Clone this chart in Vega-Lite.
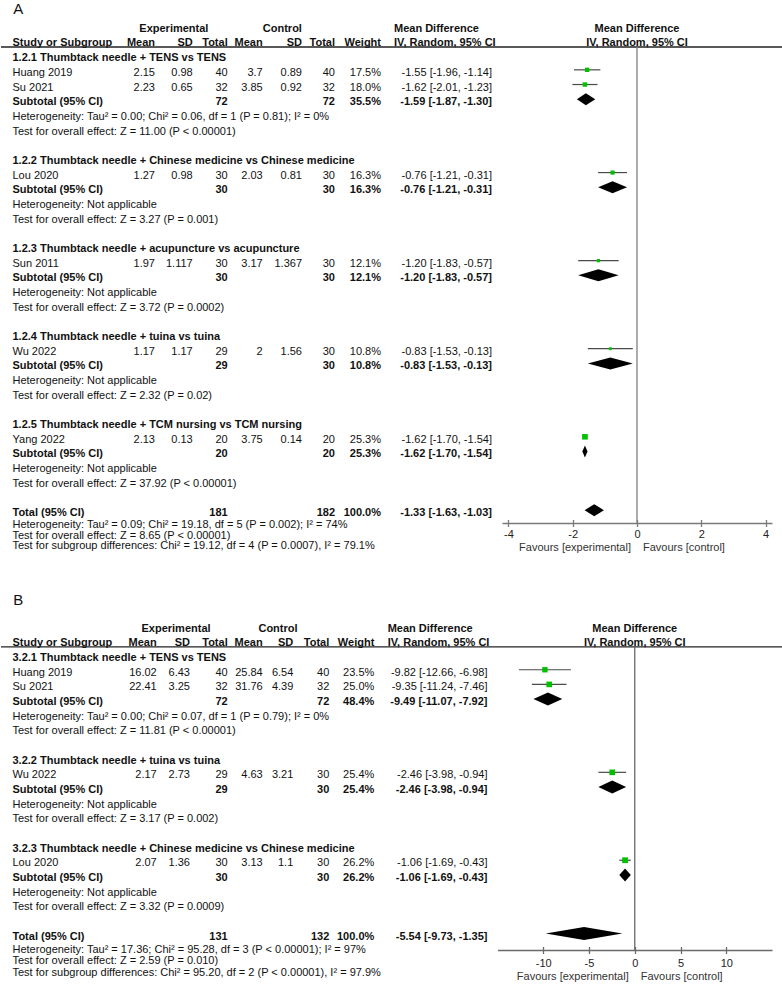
{
  "$schema": "https://vega.github.io/schema/vega-lite/v6.json",
  "background": "white",
  "padding": {"top": 2, "left": 0, "right": 0, "bottom": 0},
  "spacing": 38,
  "config": {
    "font": "Liberation Sans",
    "view": {"stroke": null},
    "text": {"fontSize": 11, "color": "#111", "baseline": "middle"},
    "title": {"font": "Liberation Sans", "fontSize": 15, "fontWeight": "normal", "color": "#111", "anchor": "start", "dx": 13},
    "locale": {"number": {"decimal": ".", "thousands": ",", "grouping": [3], "currency": ["$", ""], "minus": "-"}}
  },
  "datasets": {
    "a": [
      {"row": 0, "kind": "group", "label": "1.2.1 Thumbtack needle + TENS vs TENS"},
      {"row": 1, "kind": "study", "label": "Huang 2019", "e_mean": 2.15, "e_sd": 0.98, "e_n": 40, "c_mean": 3.7, "c_sd": 0.89, "c_n": 40, "w": 0.175, "md": -1.55, "lo": -1.96, "hi": -1.14, "ci": "-1.55 [-1.96, -1.14]"},
      {"row": 2, "kind": "study", "label": "Su 2021", "e_mean": 2.23, "e_sd": 0.65, "e_n": 32, "c_mean": 3.85, "c_sd": 0.92, "c_n": 32, "w": 0.18, "md": -1.62, "lo": -2.01, "hi": -1.23, "ci": "-1.62 [-2.01, -1.23]"},
      {"row": 3, "kind": "sub", "label": "Subtotal (95% CI)", "e_n": 72, "c_n": 72, "w": 0.355, "md": -1.59, "lo": -1.87, "hi": -1.3, "ci": "-1.59 [-1.87, -1.30]"},
      {"row": 4, "kind": "note", "label": "Heterogeneity: Tau² = 0.00; Chi² = 0.06, df = 1 (P = 0.81); I² = 0%"},
      {"row": 5, "kind": "note", "label": "Test for overall effect: Z = 11.00 (P < 0.00001)"},
      {"row": 7, "kind": "group", "label": "1.2.2 Thumbtack needle + Chinese medicine vs Chinese medicine"},
      {"row": 8, "kind": "study", "label": "Lou 2020", "e_mean": 1.27, "e_sd": 0.98, "e_n": 30, "c_mean": 2.03, "c_sd": 0.81, "c_n": 30, "w": 0.163, "md": -0.76, "lo": -1.21, "hi": -0.31, "ci": "-0.76 [-1.21, -0.31]"},
      {"row": 9, "kind": "sub", "label": "Subtotal (95% CI)", "e_n": 30, "c_n": 30, "w": 0.163, "md": -0.76, "lo": -1.21, "hi": -0.31, "ci": "-0.76 [-1.21, -0.31]"},
      {"row": 10, "kind": "note", "label": "Heterogeneity: Not applicable"},
      {"row": 11, "kind": "note", "label": "Test for overall effect: Z = 3.27 (P = 0.001)"},
      {"row": 13, "kind": "group", "label": "1.2.3 Thumbtack needle + acupuncture vs acupuncture"},
      {"row": 14, "kind": "study", "label": "Sun 2011", "e_mean": 1.97, "e_sd": 1.117, "e_n": 30, "c_mean": 3.17, "c_sd": 1.367, "c_n": 30, "w": 0.121, "md": -1.2, "lo": -1.83, "hi": -0.57, "ci": "-1.20 [-1.83, -0.57]"},
      {"row": 15, "kind": "sub", "label": "Subtotal (95% CI)", "e_n": 30, "c_n": 30, "w": 0.121, "md": -1.2, "lo": -1.83, "hi": -0.57, "ci": "-1.20 [-1.83, -0.57]"},
      {"row": 16, "kind": "note", "label": "Heterogeneity: Not applicable"},
      {"row": 17, "kind": "note", "label": "Test for overall effect: Z = 3.72 (P = 0.0002)"},
      {"row": 19, "kind": "group", "label": "1.2.4 Thumbtack needle + tuina vs tuina"},
      {"row": 20, "kind": "study", "label": "Wu 2022", "e_mean": 1.17, "e_sd": 1.17, "e_n": 29, "c_mean": 2, "c_sd": 1.56, "c_n": 30, "w": 0.108, "md": -0.83, "lo": -1.53, "hi": -0.13, "ci": "-0.83 [-1.53, -0.13]"},
      {"row": 21, "kind": "sub", "label": "Subtotal (95% CI)", "e_n": 29, "c_n": 30, "w": 0.108, "md": -0.83, "lo": -1.53, "hi": -0.13, "ci": "-0.83 [-1.53, -0.13]"},
      {"row": 22, "kind": "note", "label": "Heterogeneity: Not applicable"},
      {"row": 23, "kind": "note", "label": "Test for overall effect: Z = 2.32 (P = 0.02)"},
      {"row": 25, "kind": "group", "label": "1.2.5 Thumbtack needle + TCM nursing vs TCM nursing"},
      {"row": 26, "kind": "study", "label": "Yang 2022", "e_mean": 2.13, "e_sd": 0.13, "e_n": 20, "c_mean": 3.75, "c_sd": 0.14, "c_n": 20, "w": 0.253, "md": -1.62, "lo": -1.7, "hi": -1.54, "ci": "-1.62 [-1.70, -1.54]"},
      {"row": 27, "kind": "sub", "label": "Subtotal (95% CI)", "e_n": 20, "c_n": 20, "w": 0.253, "md": -1.62, "lo": -1.7, "hi": -1.54, "ci": "-1.62 [-1.70, -1.54]"},
      {"row": 28, "kind": "note", "label": "Heterogeneity: Not applicable"},
      {"row": 29, "kind": "note", "label": "Test for overall effect: Z = 37.92 (P < 0.00001)"},
      {"row": 31, "kind": "total", "label": "Total (95% CI)", "e_n": 181, "c_n": 182, "w": 1, "md": -1.33, "lo": -1.63, "hi": -1.03, "ci": "-1.33 [-1.63, -1.03]",
       "foot": "Heterogeneity: Tau² = 0.09; Chi² = 19.18, df = 5 (P = 0.002); I² = 74%\nTest for overall effect: Z = 8.65 (P < 0.00001)\nTest for subgroup differences: Chi² = 19.12, df = 4 (P = 0.0007), I² = 79.1%"}
    ],
    "b": [
      {"row": 0, "kind": "group", "label": "3.2.1 Thumbtack needle + TENS vs TENS"},
      {"row": 1, "kind": "study", "label": "Huang 2019", "e_mean": 16.02, "e_sd": 6.43, "e_n": 40, "c_mean": 25.84, "c_sd": 6.54, "c_n": 40, "w": 0.235, "md": -9.82, "lo": -12.66, "hi": -6.98, "ci": "-9.82 [-12.66, -6.98]"},
      {"row": 2, "kind": "study", "label": "Su 2021", "e_mean": 22.41, "e_sd": 3.25, "e_n": 32, "c_mean": 31.76, "c_sd": 4.39, "c_n": 32, "w": 0.25, "md": -9.35, "lo": -11.24, "hi": -7.46, "ci": "-9.35 [-11.24, -7.46]"},
      {"row": 3, "kind": "sub", "label": "Subtotal (95% CI)", "e_n": 72, "c_n": 72, "w": 0.484, "md": -9.49, "lo": -11.07, "hi": -7.92, "ci": "-9.49 [-11.07, -7.92]"},
      {"row": 4, "kind": "note", "label": "Heterogeneity: Tau² = 0.00; Chi² = 0.07, df = 1 (P = 0.79); I² = 0%"},
      {"row": 5, "kind": "note", "label": "Test for overall effect: Z = 11.81 (P < 0.00001)"},
      {"row": 7, "kind": "group", "label": "3.2.2 Thumbtack needle + tuina vs tuina"},
      {"row": 8, "kind": "study", "label": "Wu 2022", "e_mean": 2.17, "e_sd": 2.73, "e_n": 29, "c_mean": 4.63, "c_sd": 3.21, "c_n": 30, "w": 0.254, "md": -2.46, "lo": -3.98, "hi": -0.94, "ci": "-2.46 [-3.98, -0.94]"},
      {"row": 9, "kind": "sub", "label": "Subtotal (95% CI)", "e_n": 29, "c_n": 30, "w": 0.254, "md": -2.46, "lo": -3.98, "hi": -0.94, "ci": "-2.46 [-3.98, -0.94]"},
      {"row": 10, "kind": "note", "label": "Heterogeneity: Not applicable"},
      {"row": 11, "kind": "note", "label": "Test for overall effect: Z = 3.17 (P = 0.002)"},
      {"row": 13, "kind": "group", "label": "3.2.3 Thumbtack needle + Chinese medicine vs Chinese medicine"},
      {"row": 14, "kind": "study", "label": "Lou 2020", "e_mean": 2.07, "e_sd": 1.36, "e_n": 30, "c_mean": 3.13, "c_sd": 1.1, "c_n": 30, "w": 0.262, "md": -1.06, "lo": -1.69, "hi": -0.43, "ci": "-1.06 [-1.69, -0.43]"},
      {"row": 15, "kind": "sub", "label": "Subtotal (95% CI)", "e_n": 30, "c_n": 30, "w": 0.262, "md": -1.06, "lo": -1.69, "hi": -0.43, "ci": "-1.06 [-1.69, -0.43]"},
      {"row": 16, "kind": "note", "label": "Heterogeneity: Not applicable"},
      {"row": 17, "kind": "note", "label": "Test for overall effect: Z = 3.32 (P = 0.0009)"},
      {"row": 19, "kind": "total", "label": "Total (95% CI)", "e_n": 131, "c_n": 132, "w": 1, "md": -5.54, "lo": -9.73, "hi": -1.35, "ci": "-5.54 [-9.73, -1.35]",
       "foot": "Heterogeneity: Tau² = 17.36; Chi² = 95.28, df = 3 (P < 0.00001); I² = 97%\nTest for overall effect: Z = 2.59 (P = 0.010)\nTest for subgroup differences: Chi² = 95.20, df = 2 (P < 0.00001), I² = 97.9%"}
    ]
  },
  "vconcat": [
    {
      "title": {"text": "A", "offset": 3},
      "width": 782,
      "height": 503,
      "data": {"name": "a"},
      "resolve": {"scale": {"x": "independent"}},
      "layer": [
        {
          "layer": [
            {"transform": [{"filter": "datum.kind === 'group'"}], "mark": {"type": "text", "align": "left", "fontWeight": "bold"},
             "encoding": {"x": {"datum": 0, "type": "quantitative", "axis": null, "scale": {"domain": [0,1,2,3,4,5,6,7,8,9], "range": [11.5,154,191.7,226.7,261.7,301,334,380,393,491], "zero": false, "nice": false}},
                          "y": {"field": "row", "type": "quantitative", "axis": null, "scale": {"domain": [-2.6, 31.67], "reverse": true, "nice": false, "zero": false}},
                          "text": {"field": "label", "type": "nominal"}}},
            {"transform": [{"filter": "datum.kind === 'study' || datum.kind === 'note'"}], "mark": {"type": "text", "align": "left"},
             "encoding": {"x": {"datum": 0, "type": "quantitative", "axis": null, "scale": {"domain": [0,1,2,3,4,5,6,7,8,9], "range": [11.5,154,191.7,226.7,261.7,301,334,380,393,491], "zero": false, "nice": false}},
                          "y": {"field": "row", "type": "quantitative", "axis": null, "scale": {"domain": [-2.6, 31.67], "reverse": true, "nice": false, "zero": false}},
                          "text": {"field": "label", "type": "nominal"}}},
            {"transform": [{"filter": "datum.kind === 'sub' || datum.kind === 'total'"}], "mark": {"type": "text", "align": "left", "fontWeight": "bold"},
             "encoding": {"x": {"datum": 0, "type": "quantitative", "axis": null, "scale": {"domain": [0,1,2,3,4,5,6,7,8,9], "range": [11.5,154,191.7,226.7,261.7,301,334,380,393,491], "zero": false, "nice": false}},
                          "y": {"field": "row", "type": "quantitative", "axis": null, "scale": {"domain": [-2.6, 31.67], "reverse": true, "nice": false, "zero": false}},
                          "text": {"field": "label", "type": "nominal"}}},
            {"transform": [{"filter": "datum.kind === 'study'"}], "mark": {"type": "text", "align": "right"},
             "encoding": {"x": {"datum": 1, "type": "quantitative", "axis": null, "scale": {"domain": [0,1,2,3,4,5,6,7,8,9], "range": [11.5,154,191.7,226.7,261.7,301,334,380,393,491], "zero": false, "nice": false}},
                          "y": {"field": "row", "type": "quantitative", "axis": null, "scale": {"domain": [-2.6, 31.67], "reverse": true, "nice": false, "zero": false}},
                          "text": {"field": "e_mean", "type": "nominal"}}},
            {"transform": [{"filter": "datum.kind === 'study'"}], "mark": {"type": "text", "align": "right"},
             "encoding": {"x": {"datum": 2, "type": "quantitative", "axis": null, "scale": {"domain": [0,1,2,3,4,5,6,7,8,9], "range": [11.5,154,191.7,226.7,261.7,301,334,380,393,491], "zero": false, "nice": false}},
                          "y": {"field": "row", "type": "quantitative", "axis": null, "scale": {"domain": [-2.6, 31.67], "reverse": true, "nice": false, "zero": false}},
                          "text": {"field": "e_sd", "type": "nominal"}}},
            {"transform": [{"filter": "datum.kind === 'study'"}], "mark": {"type": "text", "align": "right"},
             "encoding": {"x": {"datum": 3, "type": "quantitative", "axis": null, "scale": {"domain": [0,1,2,3,4,5,6,7,8,9], "range": [11.5,154,191.7,226.7,261.7,301,334,380,393,491], "zero": false, "nice": false}},
                          "y": {"field": "row", "type": "quantitative", "axis": null, "scale": {"domain": [-2.6, 31.67], "reverse": true, "nice": false, "zero": false}},
                          "text": {"field": "e_n", "type": "nominal"}}},
            {"transform": [{"filter": "datum.kind === 'study'"}], "mark": {"type": "text", "align": "right"},
             "encoding": {"x": {"datum": 4, "type": "quantitative", "axis": null, "scale": {"domain": [0,1,2,3,4,5,6,7,8,9], "range": [11.5,154,191.7,226.7,261.7,301,334,380,393,491], "zero": false, "nice": false}},
                          "y": {"field": "row", "type": "quantitative", "axis": null, "scale": {"domain": [-2.6, 31.67], "reverse": true, "nice": false, "zero": false}},
                          "text": {"field": "c_mean", "type": "nominal"}}},
            {"transform": [{"filter": "datum.kind === 'study'"}], "mark": {"type": "text", "align": "right"},
             "encoding": {"x": {"datum": 5, "type": "quantitative", "axis": null, "scale": {"domain": [0,1,2,3,4,5,6,7,8,9], "range": [11.5,154,191.7,226.7,261.7,301,334,380,393,491], "zero": false, "nice": false}},
                          "y": {"field": "row", "type": "quantitative", "axis": null, "scale": {"domain": [-2.6, 31.67], "reverse": true, "nice": false, "zero": false}},
                          "text": {"field": "c_sd", "type": "nominal"}}},
            {"transform": [{"filter": "datum.kind === 'study'"}], "mark": {"type": "text", "align": "right"},
             "encoding": {"x": {"datum": 6, "type": "quantitative", "axis": null, "scale": {"domain": [0,1,2,3,4,5,6,7,8,9], "range": [11.5,154,191.7,226.7,261.7,301,334,380,393,491], "zero": false, "nice": false}},
                          "y": {"field": "row", "type": "quantitative", "axis": null, "scale": {"domain": [-2.6, 31.67], "reverse": true, "nice": false, "zero": false}},
                          "text": {"field": "c_n", "type": "nominal"}}},
            {"transform": [{"filter": "datum.kind === 'study'"}], "mark": {"type": "text", "align": "right"},
             "encoding": {"x": {"datum": 7, "type": "quantitative", "axis": null, "scale": {"domain": [0,1,2,3,4,5,6,7,8,9], "range": [11.5,154,191.7,226.7,261.7,301,334,380,393,491], "zero": false, "nice": false}},
                          "y": {"field": "row", "type": "quantitative", "axis": null, "scale": {"domain": [-2.6, 31.67], "reverse": true, "nice": false, "zero": false}},
                          "text": {"field": "w", "type": "quantitative", "format": ".1%"}}},
            {"transform": [{"filter": "datum.kind === 'study'"}], "mark": {"type": "text", "align": "right"},
             "encoding": {"x": {"datum": 9, "type": "quantitative", "axis": null, "scale": {"domain": [0,1,2,3,4,5,6,7,8,9], "range": [11.5,154,191.7,226.7,261.7,301,334,380,393,491], "zero": false, "nice": false}},
                          "y": {"field": "row", "type": "quantitative", "axis": null, "scale": {"domain": [-2.6, 31.67], "reverse": true, "nice": false, "zero": false}},
                          "text": {"field": "ci", "type": "nominal"}}},
            {"transform": [{"filter": "datum.kind === 'sub' || datum.kind === 'total'"}], "mark": {"type": "text", "align": "right", "fontWeight": "bold"},
             "encoding": {"x": {"datum": 3, "type": "quantitative", "axis": null, "scale": {"domain": [0,1,2,3,4,5,6,7,8,9], "range": [11.5,154,191.7,226.7,261.7,301,334,380,393,491], "zero": false, "nice": false}},
                          "y": {"field": "row", "type": "quantitative", "axis": null, "scale": {"domain": [-2.6, 31.67], "reverse": true, "nice": false, "zero": false}},
                          "text": {"field": "e_n", "type": "nominal"}}},
            {"transform": [{"filter": "datum.kind === 'sub' || datum.kind === 'total'"}], "mark": {"type": "text", "align": "right", "fontWeight": "bold"},
             "encoding": {"x": {"datum": 6, "type": "quantitative", "axis": null, "scale": {"domain": [0,1,2,3,4,5,6,7,8,9], "range": [11.5,154,191.7,226.7,261.7,301,334,380,393,491], "zero": false, "nice": false}},
                          "y": {"field": "row", "type": "quantitative", "axis": null, "scale": {"domain": [-2.6, 31.67], "reverse": true, "nice": false, "zero": false}},
                          "text": {"field": "c_n", "type": "nominal"}}},
            {"transform": [{"filter": "datum.kind === 'sub' || datum.kind === 'total'"}], "mark": {"type": "text", "align": "right", "fontWeight": "bold"},
             "encoding": {"x": {"datum": 7, "type": "quantitative", "axis": null, "scale": {"domain": [0,1,2,3,4,5,6,7,8,9], "range": [11.5,154,191.7,226.7,261.7,301,334,380,393,491], "zero": false, "nice": false}},
                          "y": {"field": "row", "type": "quantitative", "axis": null, "scale": {"domain": [-2.6, 31.67], "reverse": true, "nice": false, "zero": false}},
                          "text": {"field": "w", "type": "quantitative", "format": ".1%"}}},
            {"transform": [{"filter": "datum.kind === 'sub' || datum.kind === 'total'"}], "mark": {"type": "text", "align": "right", "fontWeight": "bold"},
             "encoding": {"x": {"datum": 9, "type": "quantitative", "axis": null, "scale": {"domain": [0,1,2,3,4,5,6,7,8,9], "range": [11.5,154,191.7,226.7,261.7,301,334,380,393,491], "zero": false, "nice": false}},
                          "y": {"field": "row", "type": "quantitative", "axis": null, "scale": {"domain": [-2.6, 31.67], "reverse": true, "nice": false, "zero": false}},
                          "text": {"field": "ci", "type": "nominal"}}},
            {"transform": [{"filter": "datum.kind === 'total'"}], "mark": {"type": "text", "align": "left", "baseline": "top", "dy": 6, "lineBreak": "\n", "lineHeight": 10.6},
             "encoding": {"x": {"datum": 0, "type": "quantitative", "axis": null, "scale": {"domain": [0,1,2,3,4,5,6,7,8,9], "range": [11.5,154,191.7,226.7,261.7,301,334,380,393,491], "zero": false, "nice": false}},
                          "y": {"field": "row", "type": "quantitative", "axis": null, "scale": {"domain": [-2.6, 31.67], "reverse": true, "nice": false, "zero": false}},
                          "text": {"field": "foot", "type": "nominal"}}},
            {"data": {"values": [{"t": "Experimental", "s": 1.5, "row": -2}, {"t": "Control", "s": 4.5, "row": -2}]},
             "mark": {"type": "text", "align": "center", "fontWeight": "bold"},
             "encoding": {"x": {"field": "s", "type": "quantitative", "axis": null, "scale": {"domain": [0,1,2,3,4,5,6,7,8,9], "range": [11.5,154,191.7,226.7,261.7,301,334,380,393,491], "zero": false, "nice": false}},
                          "y": {"field": "row", "type": "quantitative", "axis": null, "scale": {"domain": [-2.6, 31.67], "reverse": true, "nice": false, "zero": false}},
                          "text": {"field": "t", "type": "nominal"}}},
            {"data": {"values": [{"t": "Mean Difference", "s": 8, "row": -2}, {"t": "Study or Subgroup", "s": 0, "row": -1}, {"t": "IV, Random, 95% CI", "s": 8, "row": -1}]},
             "mark": {"type": "text", "align": "left", "fontWeight": "bold"},
             "encoding": {"x": {"field": "s", "type": "quantitative", "axis": null, "scale": {"domain": [0,1,2,3,4,5,6,7,8,9], "range": [11.5,154,191.7,226.7,261.7,301,334,380,393,491], "zero": false, "nice": false}},
                          "y": {"field": "row", "type": "quantitative", "axis": null, "scale": {"domain": [-2.6, 31.67], "reverse": true, "nice": false, "zero": false}},
                          "text": {"field": "t", "type": "nominal"}}},
            {"data": {"values": [{"t": "Mean", "s": 1, "row": -1}, {"t": "SD", "s": 2, "row": -1}, {"t": "Total", "s": 3, "row": -1}, {"t": "Mean", "s": 4, "row": -1}, {"t": "SD", "s": 5, "row": -1}, {"t": "Total", "s": 6, "row": -1}, {"t": "Weight", "s": 7, "row": -1}]},
             "mark": {"type": "text", "align": "right", "fontWeight": "bold"},
             "encoding": {"x": {"field": "s", "type": "quantitative", "axis": null, "scale": {"domain": [0,1,2,3,4,5,6,7,8,9], "range": [11.5,154,191.7,226.7,261.7,301,334,380,393,491], "zero": false, "nice": false}},
                          "y": {"field": "row", "type": "quantitative", "axis": null, "scale": {"domain": [-2.6, 31.67], "reverse": true, "nice": false, "zero": false}},
                          "text": {"field": "t", "type": "nominal"}}},
            {"data": {"values": [{}]}, "mark": {"type": "rule", "color": "#222", "strokeWidth": 1.3},
             "encoding": {"y": {"datum": -0.76, "type": "quantitative", "axis": null, "scale": {"domain": [-2.6, 31.67], "reverse": true, "nice": false, "zero": false}}}}
          ]
        },
        {
          "resolve": {"axis": {"x": "independent"}},
          "layer": [
            {"transform": [{"filter": "datum.kind === 'study'"}], "mark": {"type": "rule", "color": "#4a4a4a", "strokeWidth": 1.2, "yOffset": -3},
             "encoding": {
               "x": {"field": "lo", "type": "quantitative", "scale": {"domain": [-4.2, 4.2], "range": [501, 771], "nice": false, "zero": false},
                     "axis": {"orient": "bottom", "values": [-4, -2, 0, 2, 4], "title": null, "grid": false, "domainColor": "#7a7a7a", "domainWidth": 1.5, "tickColor": "#7a7a7a", "tickWidth": 1.3, "tickSize": 3.5, "labelPadding": 2, "labelFontSize": 11, "labelColor": "#222", "labelFont": "Liberation Sans", "labelFlush": false, "labelOverlap": false}},
               "x2": {"field": "hi"},
               "y": {"field": "row", "type": "quantitative", "axis": null, "scale": {"domain": [-2.6, 31.67], "reverse": true, "nice": false, "zero": false}}}},
            {"transform": [{"filter": "datum.kind === 'study'"}], "mark": {"type": "point", "shape": "square", "filled": true, "color": "#00c000", "opacity": 1, "yOffset": -3},
             "encoding": {
               "x": {"field": "md", "type": "quantitative", "axis": null},
               "y": {"field": "row", "type": "quantitative", "axis": null, "scale": {"domain": [-2.6, 31.67], "reverse": true, "nice": false, "zero": false}},
               "size": {"field": "w", "type": "quantitative", "legend": null, "scale": {"domain": [0.1, 0.26], "range": [7, 33], "zero": false}}}},
            {"transform": [{"filter": "datum.kind === 'sub' || datum.kind === 'total'"}, {"fold": ["lo", "md", "hi"], "as": ["vk", "vx"]}],
             "mark": {"type": "area", "color": "#000", "opacity": 1,
                      "yOffset": {"expr": "datum.vk === 'md' ? -9 : -3"}, "y2Offset": {"expr": "datum.vk === 'md' ? 3 : -3"}},
             "encoding": {
               "x": {"field": "vx", "type": "quantitative", "axis": null},
               "y": {"field": "row", "type": "quantitative", "axis": null, "scale": {"domain": [-2.6, 31.67], "reverse": true, "nice": false, "zero": false}},
               "y2": {"field": "row"},
               "detail": {"field": "row", "type": "nominal"}}},
            {"data": {"values": [{}]}, "mark": {"type": "rule", "color": "#808080", "strokeWidth": 1.3},
             "encoding": {
               "x": {"datum": 0, "type": "quantitative",
                     "axis": {"orient": "bottom", "values": [-4, -2, 0, 2, 4], "title": null, "grid": false, "domain": false, "labels": false, "tickSize": 3.5, "tickColor": "#7a7a7a", "tickWidth": 1.3, "offset": -3.5}},
               "y": {"datum": -0.76, "type": "quantitative", "axis": null, "scale": {"domain": [-2.6, 31.67], "reverse": true, "nice": false, "zero": false}},
               "y2": {"datum": 31.67}}},
            {"data": {"values": [{"t": "Mean Difference", "row": -2}, {"t": "IV, Random, 95% CI", "row": -1}]},
             "mark": {"type": "text", "align": "center", "fontWeight": "bold"},
             "encoding": {"x": {"datum": 0, "type": "quantitative", "axis": null},
                          "y": {"field": "row", "type": "quantitative", "axis": null, "scale": {"domain": [-2.6, 31.67], "reverse": true, "nice": false, "zero": false}},
                          "text": {"field": "t", "type": "nominal"}}},
            {"data": {"values": [{"t": "Favours [experimental]"}]},
             "mark": {"type": "text", "align": "right", "dx": -6, "color": "#333"},
             "encoding": {"x": {"datum": 0, "type": "quantitative", "axis": null},
                          "y": {"datum": 33.4, "type": "quantitative", "axis": null, "scale": {"domain": [-2.6, 31.67], "reverse": true, "nice": false, "zero": false}},
                          "text": {"field": "t", "type": "nominal"}}},
            {"data": {"values": [{"t": "Favours [control]"}]},
             "mark": {"type": "text", "align": "left", "dx": 6, "color": "#333"},
             "encoding": {"x": {"datum": 0, "type": "quantitative", "axis": null},
                          "y": {"datum": 33.4, "type": "quantitative", "axis": null, "scale": {"domain": [-2.6, 31.67], "reverse": true, "nice": false, "zero": false}},
                          "text": {"field": "t", "type": "nominal"}}}
          ]
        }
      ]
    },
    {
      "title": {"text": "B", "offset": 12.5},
      "width": 782,
      "height": 330,
      "data": {"name": "b"},
      "resolve": {"scale": {"x": "independent"}},
      "layer": [
        {
          "layer": [
            {"transform": [{"filter": "datum.kind === 'group'"}], "mark": {"type": "text", "align": "left", "fontWeight": "bold"},
             "encoding": {"x": {"datum": 0, "type": "quantitative", "axis": null, "scale": {"domain": [0,1,2,3,4,5,6,7,8,9], "range": [11.5,155.7,189,226.7,261.7,292.3,328.3,373.3,386.7,486.5], "zero": false, "nice": false}},
                          "y": {"field": "row", "type": "quantitative", "axis": null, "scale": {"domain": [-2.6, 19.92], "reverse": true, "nice": false, "zero": false}},
                          "text": {"field": "label", "type": "nominal"}}},
            {"transform": [{"filter": "datum.kind === 'study' || datum.kind === 'note'"}], "mark": {"type": "text", "align": "left"},
             "encoding": {"x": {"datum": 0, "type": "quantitative", "axis": null, "scale": {"domain": [0,1,2,3,4,5,6,7,8,9], "range": [11.5,155.7,189,226.7,261.7,292.3,328.3,373.3,386.7,486.5], "zero": false, "nice": false}},
                          "y": {"field": "row", "type": "quantitative", "axis": null, "scale": {"domain": [-2.6, 19.92], "reverse": true, "nice": false, "zero": false}},
                          "text": {"field": "label", "type": "nominal"}}},
            {"transform": [{"filter": "datum.kind === 'sub' || datum.kind === 'total'"}], "mark": {"type": "text", "align": "left", "fontWeight": "bold"},
             "encoding": {"x": {"datum": 0, "type": "quantitative", "axis": null, "scale": {"domain": [0,1,2,3,4,5,6,7,8,9], "range": [11.5,155.7,189,226.7,261.7,292.3,328.3,373.3,386.7,486.5], "zero": false, "nice": false}},
                          "y": {"field": "row", "type": "quantitative", "axis": null, "scale": {"domain": [-2.6, 19.92], "reverse": true, "nice": false, "zero": false}},
                          "text": {"field": "label", "type": "nominal"}}},
            {"transform": [{"filter": "datum.kind === 'study'"}], "mark": {"type": "text", "align": "right"},
             "encoding": {"x": {"datum": 1, "type": "quantitative", "axis": null, "scale": {"domain": [0,1,2,3,4,5,6,7,8,9], "range": [11.5,155.7,189,226.7,261.7,292.3,328.3,373.3,386.7,486.5], "zero": false, "nice": false}},
                          "y": {"field": "row", "type": "quantitative", "axis": null, "scale": {"domain": [-2.6, 19.92], "reverse": true, "nice": false, "zero": false}},
                          "text": {"field": "e_mean", "type": "nominal"}}},
            {"transform": [{"filter": "datum.kind === 'study'"}], "mark": {"type": "text", "align": "right"},
             "encoding": {"x": {"datum": 2, "type": "quantitative", "axis": null, "scale": {"domain": [0,1,2,3,4,5,6,7,8,9], "range": [11.5,155.7,189,226.7,261.7,292.3,328.3,373.3,386.7,486.5], "zero": false, "nice": false}},
                          "y": {"field": "row", "type": "quantitative", "axis": null, "scale": {"domain": [-2.6, 19.92], "reverse": true, "nice": false, "zero": false}},
                          "text": {"field": "e_sd", "type": "nominal"}}},
            {"transform": [{"filter": "datum.kind === 'study'"}], "mark": {"type": "text", "align": "right"},
             "encoding": {"x": {"datum": 3, "type": "quantitative", "axis": null, "scale": {"domain": [0,1,2,3,4,5,6,7,8,9], "range": [11.5,155.7,189,226.7,261.7,292.3,328.3,373.3,386.7,486.5], "zero": false, "nice": false}},
                          "y": {"field": "row", "type": "quantitative", "axis": null, "scale": {"domain": [-2.6, 19.92], "reverse": true, "nice": false, "zero": false}},
                          "text": {"field": "e_n", "type": "nominal"}}},
            {"transform": [{"filter": "datum.kind === 'study'"}], "mark": {"type": "text", "align": "right"},
             "encoding": {"x": {"datum": 4, "type": "quantitative", "axis": null, "scale": {"domain": [0,1,2,3,4,5,6,7,8,9], "range": [11.5,155.7,189,226.7,261.7,292.3,328.3,373.3,386.7,486.5], "zero": false, "nice": false}},
                          "y": {"field": "row", "type": "quantitative", "axis": null, "scale": {"domain": [-2.6, 19.92], "reverse": true, "nice": false, "zero": false}},
                          "text": {"field": "c_mean", "type": "nominal"}}},
            {"transform": [{"filter": "datum.kind === 'study'"}], "mark": {"type": "text", "align": "right"},
             "encoding": {"x": {"datum": 5, "type": "quantitative", "axis": null, "scale": {"domain": [0,1,2,3,4,5,6,7,8,9], "range": [11.5,155.7,189,226.7,261.7,292.3,328.3,373.3,386.7,486.5], "zero": false, "nice": false}},
                          "y": {"field": "row", "type": "quantitative", "axis": null, "scale": {"domain": [-2.6, 19.92], "reverse": true, "nice": false, "zero": false}},
                          "text": {"field": "c_sd", "type": "nominal"}}},
            {"transform": [{"filter": "datum.kind === 'study'"}], "mark": {"type": "text", "align": "right"},
             "encoding": {"x": {"datum": 6, "type": "quantitative", "axis": null, "scale": {"domain": [0,1,2,3,4,5,6,7,8,9], "range": [11.5,155.7,189,226.7,261.7,292.3,328.3,373.3,386.7,486.5], "zero": false, "nice": false}},
                          "y": {"field": "row", "type": "quantitative", "axis": null, "scale": {"domain": [-2.6, 19.92], "reverse": true, "nice": false, "zero": false}},
                          "text": {"field": "c_n", "type": "nominal"}}},
            {"transform": [{"filter": "datum.kind === 'study'"}], "mark": {"type": "text", "align": "right"},
             "encoding": {"x": {"datum": 7, "type": "quantitative", "axis": null, "scale": {"domain": [0,1,2,3,4,5,6,7,8,9], "range": [11.5,155.7,189,226.7,261.7,292.3,328.3,373.3,386.7,486.5], "zero": false, "nice": false}},
                          "y": {"field": "row", "type": "quantitative", "axis": null, "scale": {"domain": [-2.6, 19.92], "reverse": true, "nice": false, "zero": false}},
                          "text": {"field": "w", "type": "quantitative", "format": ".1%"}}},
            {"transform": [{"filter": "datum.kind === 'study'"}], "mark": {"type": "text", "align": "right"},
             "encoding": {"x": {"datum": 9, "type": "quantitative", "axis": null, "scale": {"domain": [0,1,2,3,4,5,6,7,8,9], "range": [11.5,155.7,189,226.7,261.7,292.3,328.3,373.3,386.7,486.5], "zero": false, "nice": false}},
                          "y": {"field": "row", "type": "quantitative", "axis": null, "scale": {"domain": [-2.6, 19.92], "reverse": true, "nice": false, "zero": false}},
                          "text": {"field": "ci", "type": "nominal"}}},
            {"transform": [{"filter": "datum.kind === 'sub' || datum.kind === 'total'"}], "mark": {"type": "text", "align": "right", "fontWeight": "bold"},
             "encoding": {"x": {"datum": 3, "type": "quantitative", "axis": null, "scale": {"domain": [0,1,2,3,4,5,6,7,8,9], "range": [11.5,155.7,189,226.7,261.7,292.3,328.3,373.3,386.7,486.5], "zero": false, "nice": false}},
                          "y": {"field": "row", "type": "quantitative", "axis": null, "scale": {"domain": [-2.6, 19.92], "reverse": true, "nice": false, "zero": false}},
                          "text": {"field": "e_n", "type": "nominal"}}},
            {"transform": [{"filter": "datum.kind === 'sub' || datum.kind === 'total'"}], "mark": {"type": "text", "align": "right", "fontWeight": "bold"},
             "encoding": {"x": {"datum": 6, "type": "quantitative", "axis": null, "scale": {"domain": [0,1,2,3,4,5,6,7,8,9], "range": [11.5,155.7,189,226.7,261.7,292.3,328.3,373.3,386.7,486.5], "zero": false, "nice": false}},
                          "y": {"field": "row", "type": "quantitative", "axis": null, "scale": {"domain": [-2.6, 19.92], "reverse": true, "nice": false, "zero": false}},
                          "text": {"field": "c_n", "type": "nominal"}}},
            {"transform": [{"filter": "datum.kind === 'sub' || datum.kind === 'total'"}], "mark": {"type": "text", "align": "right", "fontWeight": "bold"},
             "encoding": {"x": {"datum": 7, "type": "quantitative", "axis": null, "scale": {"domain": [0,1,2,3,4,5,6,7,8,9], "range": [11.5,155.7,189,226.7,261.7,292.3,328.3,373.3,386.7,486.5], "zero": false, "nice": false}},
                          "y": {"field": "row", "type": "quantitative", "axis": null, "scale": {"domain": [-2.6, 19.92], "reverse": true, "nice": false, "zero": false}},
                          "text": {"field": "w", "type": "quantitative", "format": ".1%"}}},
            {"transform": [{"filter": "datum.kind === 'sub' || datum.kind === 'total'"}], "mark": {"type": "text", "align": "right", "fontWeight": "bold"},
             "encoding": {"x": {"datum": 9, "type": "quantitative", "axis": null, "scale": {"domain": [0,1,2,3,4,5,6,7,8,9], "range": [11.5,155.7,189,226.7,261.7,292.3,328.3,373.3,386.7,486.5], "zero": false, "nice": false}},
                          "y": {"field": "row", "type": "quantitative", "axis": null, "scale": {"domain": [-2.6, 19.92], "reverse": true, "nice": false, "zero": false}},
                          "text": {"field": "ci", "type": "nominal"}}},
            {"transform": [{"filter": "datum.kind === 'total'"}], "mark": {"type": "text", "align": "left", "baseline": "top", "dy": 7, "lineBreak": "\n", "lineHeight": 11.8},
             "encoding": {"x": {"datum": 0, "type": "quantitative", "axis": null, "scale": {"domain": [0,1,2,3,4,5,6,7,8,9], "range": [11.5,155.7,189,226.7,261.7,292.3,328.3,373.3,386.7,486.5], "zero": false, "nice": false}},
                          "y": {"field": "row", "type": "quantitative", "axis": null, "scale": {"domain": [-2.6, 19.92], "reverse": true, "nice": false, "zero": false}},
                          "text": {"field": "foot", "type": "nominal"}}},
            {"data": {"values": [{"t": "Experimental", "s": 1.58, "row": -2}, {"t": "Control", "s": 4.5, "row": -2}]},
             "mark": {"type": "text", "align": "center", "fontWeight": "bold"},
             "encoding": {"x": {"field": "s", "type": "quantitative", "axis": null, "scale": {"domain": [0,1,2,3,4,5,6,7,8,9], "range": [11.5,155.7,189,226.7,261.7,292.3,328.3,373.3,386.7,486.5], "zero": false, "nice": false}},
                          "y": {"field": "row", "type": "quantitative", "axis": null, "scale": {"domain": [-2.6, 19.92], "reverse": true, "nice": false, "zero": false}},
                          "text": {"field": "t", "type": "nominal"}}},
            {"data": {"values": [{"t": "Mean Difference", "s": 8, "row": -2}, {"t": "Study or Subgroup", "s": 0, "row": -1}, {"t": "IV, Random, 95% CI", "s": 8, "row": -1}]},
             "mark": {"type": "text", "align": "left", "fontWeight": "bold"},
             "encoding": {"x": {"field": "s", "type": "quantitative", "axis": null, "scale": {"domain": [0,1,2,3,4,5,6,7,8,9], "range": [11.5,155.7,189,226.7,261.7,292.3,328.3,373.3,386.7,486.5], "zero": false, "nice": false}},
                          "y": {"field": "row", "type": "quantitative", "axis": null, "scale": {"domain": [-2.6, 19.92], "reverse": true, "nice": false, "zero": false}},
                          "text": {"field": "t", "type": "nominal"}}},
            {"data": {"values": [{"t": "Mean", "s": 1, "row": -1}, {"t": "SD", "s": 2, "row": -1}, {"t": "Total", "s": 3, "row": -1}, {"t": "Mean", "s": 4, "row": -1}, {"t": "SD", "s": 5, "row": -1}, {"t": "Total", "s": 6, "row": -1}, {"t": "Weight", "s": 7, "row": -1}]},
             "mark": {"type": "text", "align": "right", "fontWeight": "bold"},
             "encoding": {"x": {"field": "s", "type": "quantitative", "axis": null, "scale": {"domain": [0,1,2,3,4,5,6,7,8,9], "range": [11.5,155.7,189,226.7,261.7,292.3,328.3,373.3,386.7,486.5], "zero": false, "nice": false}},
                          "y": {"field": "row", "type": "quantitative", "axis": null, "scale": {"domain": [-2.6, 19.92], "reverse": true, "nice": false, "zero": false}},
                          "text": {"field": "t", "type": "nominal"}}},
            {"data": {"values": [{}]}, "mark": {"type": "rule", "color": "#222", "strokeWidth": 1.3},
             "encoding": {"y": {"datum": -0.76, "type": "quantitative", "axis": null, "scale": {"domain": [-2.6, 19.92], "reverse": true, "nice": false, "zero": false}}}}
          ]
        },
        {
          "resolve": {"axis": {"x": "independent"}},
          "layer": [
            {"transform": [{"filter": "datum.kind === 'study'"}], "mark": {"type": "rule", "color": "#4a4a4a", "strokeWidth": 1.2, "yOffset": -3},
             "encoding": {
               "x": {"field": "lo", "type": "quantitative", "scale": {"domain": [-15, 15], "range": [496.5, 771], "nice": false, "zero": false},
                     "axis": {"orient": "bottom", "values": [-10, -5, 0, 5, 10], "title": null, "grid": false, "domainColor": "#6a6a6a", "domainWidth": 1.5, "tickColor": "#6a6a6a", "tickWidth": 1.3, "tickSize": 3.5, "labelPadding": 4, "labelFontSize": 11, "labelColor": "#222", "labelFont": "Liberation Sans", "labelFlush": false, "labelOverlap": false}},
               "x2": {"field": "hi"},
               "y": {"field": "row", "type": "quantitative", "axis": null, "scale": {"domain": [-2.6, 19.92], "reverse": true, "nice": false, "zero": false}}}},
            {"transform": [{"filter": "datum.kind === 'study'"}], "mark": {"type": "point", "shape": "square", "filled": true, "color": "#00c000", "opacity": 1, "yOffset": -3},
             "encoding": {
               "x": {"field": "md", "type": "quantitative", "axis": null},
               "y": {"field": "row", "type": "quantitative", "axis": null, "scale": {"domain": [-2.6, 19.92], "reverse": true, "nice": false, "zero": false}},
               "size": {"field": "w", "type": "quantitative", "legend": null, "scale": {"domain": [0.1, 0.26], "range": [7, 33], "zero": false}}}},
            {"transform": [{"filter": "datum.kind === 'sub' || datum.kind === 'total'"}, {"fold": ["lo", "md", "hi"], "as": ["vk", "vx"]}],
             "mark": {"type": "area", "color": "#000", "opacity": 1,
                      "yOffset": {"expr": "datum.vk === 'md' ? -9.5 : -3"}, "y2Offset": {"expr": "datum.vk === 'md' ? 3.5 : -3"}},
             "encoding": {
               "x": {"field": "vx", "type": "quantitative", "axis": null},
               "y": {"field": "row", "type": "quantitative", "axis": null, "scale": {"domain": [-2.6, 19.92], "reverse": true, "nice": false, "zero": false}},
               "y2": {"field": "row"},
               "detail": {"field": "row", "type": "nominal"}}},
            {"data": {"values": [{}]}, "mark": {"type": "rule", "color": "#6a6a6a", "strokeWidth": 1.3},
             "encoding": {
               "x": {"datum": 0, "type": "quantitative",
                     "axis": {"orient": "bottom", "values": [-10, -5, 0, 5, 10], "title": null, "grid": false, "domain": false, "labels": false, "tickSize": 3.5, "tickColor": "#6a6a6a", "tickWidth": 1.3, "offset": -3.5}},
               "y": {"datum": -0.76, "type": "quantitative", "axis": null, "scale": {"domain": [-2.6, 19.92], "reverse": true, "nice": false, "zero": false}},
               "y2": {"datum": 19.92}}},
            {"data": {"values": [{"t": "Mean Difference", "row": -2}, {"t": "IV, Random, 95% CI", "row": -1}]},
             "mark": {"type": "text", "align": "center", "fontWeight": "bold"},
             "encoding": {"x": {"datum": 0, "type": "quantitative", "axis": null},
                          "y": {"field": "row", "type": "quantitative", "axis": null, "scale": {"domain": [-2.6, 19.92], "reverse": true, "nice": false, "zero": false}},
                          "text": {"field": "t", "type": "nominal"}}},
            {"data": {"values": [{"t": "Favours [experimental]"}]},
             "mark": {"type": "text", "align": "right", "dx": -6, "color": "#333"},
             "encoding": {"x": {"datum": 0, "type": "quantitative", "axis": null},
                          "y": {"datum": 21.74, "type": "quantitative", "axis": null, "scale": {"domain": [-2.6, 19.92], "reverse": true, "nice": false, "zero": false}},
                          "text": {"field": "t", "type": "nominal"}}},
            {"data": {"values": [{"t": "Favours [control]"}]},
             "mark": {"type": "text", "align": "left", "dx": 6, "color": "#333"},
             "encoding": {"x": {"datum": 0, "type": "quantitative", "axis": null},
                          "y": {"datum": 21.74, "type": "quantitative", "axis": null, "scale": {"domain": [-2.6, 19.92], "reverse": true, "nice": false, "zero": false}},
                          "text": {"field": "t", "type": "nominal"}}}
          ]
        }
      ]
    }
  ]
}
